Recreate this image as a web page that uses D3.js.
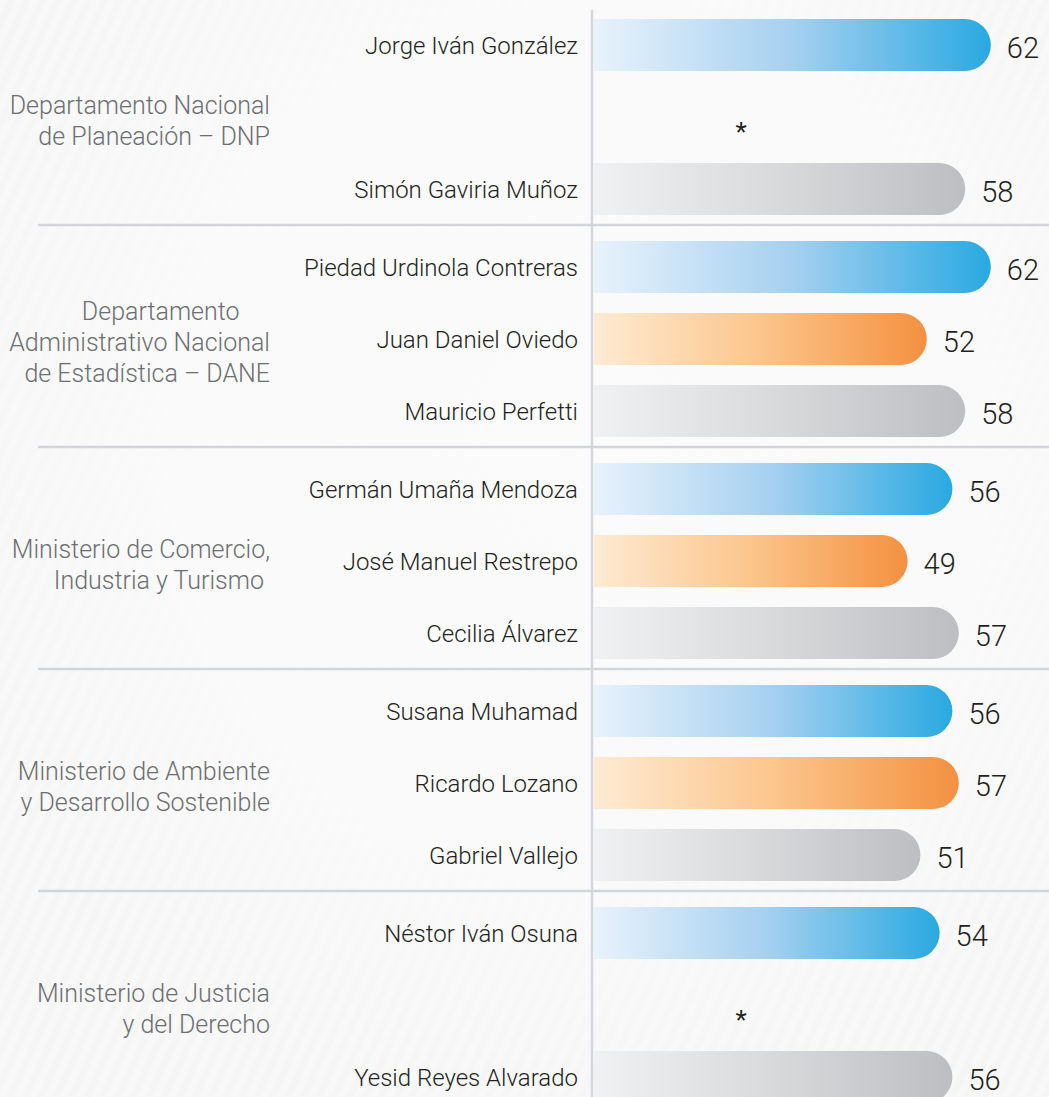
<!DOCTYPE html>
<html>
<head>
<meta charset="utf-8">
<script src="https://cdn.jsdelivr.net/npm/d3@7"></script>
<style>
  html, body { margin: 0; padding: 0; background: #f7f7f7; }
  svg { display: block; }
</style>
</head>
<body>
<svg id="chart"></svg>
<script>
// group labels (one entry per line)
const groupLabels = [
    ["Departamento Nacional", "de Planeación – DNP"],
    ["Departamento\u00a0\u00a0\u00a0\u00a0\u00a0", "Administrativo Nacional", "de Estadística – DANE"],
    ["Ministerio de Comercio,", "Industria y Turismo\u00a0"],
    ["Ministerio de Ambiente", "y Desarrollo Sostenible"],
    ["Ministerio de Justicia", "y del Derecho"]
];

// three slots per group: current, previous, earlier (null = no data, shown as *)
const names = [
    "Jorge Iván González", null, "Simón Gaviria Muñoz",
    "Piedad Urdinola Contreras", "Juan Daniel Oviedo", "Mauricio Perfetti",
    "Germán Umaña Mendoza", "José Manuel Restrepo", "Cecilia Álvarez",
    "Susana Muhamad", "Ricardo Lozano", "Gabriel Vallejo",
    "Néstor Iván Osuna", null, "Yesid Reyes Alvarado"
];
const values = [
    62, null, 58,
    62, 52, 58,
    56, 49, 57,
    56, 57, 51,
    54, null, 56
];
const series = ["actual", "anterior", "previo"];

const width = 1049;
const height = 1097;
const slotsPerGroup = 3;
const barHeight = 52;
const groupGap = 6 / 72; // extra space between groups, in slots

const svg = d3.select("#chart")
    .attr("width", width)
    .attr("height", height);

// background with faint diagonal stripes
const defs = svg.append("defs");
const stripes = defs.append("pattern")
    .attr("id", "stripes")
    .attr("width", 14)
    .attr("height", 14)
    .attr("patternUnits", "userSpaceOnUse")
    .attr("patternTransform", "rotate(25)");
stripes.append("rect").attr("width", 7).attr("height", 14).attr("fill", "#ffffff").attr("opacity", 0.35);

const glow = defs.append("radialGradient").attr("id", "glow")
    .attr("cx", "0.55").attr("cy", "0.4").attr("r", "0.65");
glow.append("stop").attr("offset", "0%").attr("stop-color", "#fbfbfb").attr("stop-opacity", 1);
glow.append("stop").attr("offset", "60%").attr("stop-color", "#fafafa").attr("stop-opacity", 0.85);
glow.append("stop").attr("offset", "100%").attr("stop-color", "#fafafa").attr("stop-opacity", 0);

svg.append("rect").attr("width", width).attr("height", height).attr("fill", "#f5f5f5");
svg.append("rect").attr("width", width).attr("height", height).attr("fill", "url(#stripes)");
svg.append("rect").attr("width", width).attr("height", height).attr("fill", "url(#glow)");

// bar gradients per series
const gradientStops = {
    actual: ["#e8f2fb", "#a6d0ef", "#29a9e1"],
    anterior: ["#fdebd3", "#fbc58c", "#f39140"],
    previo: ["#f0f1f3", "#d8d9db", "#bcbec1"]
};
series.forEach(s => {
    const g = defs.append("linearGradient").attr("id", "grad-" + s)
        .attr("x1", "0").attr("x2", "1").attr("y1", "0").attr("y2", "0");
    gradientStops[s].forEach((c, i, arr) => {
        g.append("stop").attr("offset", (i / (arr.length - 1) * 100) + "%").attr("stop-color", c);
    });
});

// scales
const x = d3.scaleLinear()
    .domain([0, 70])
    .range([594, 594 + 70 * 6.4]);

const slotPos = i => i + Math.floor(i / slotsPerGroup) * groupGap;
const y = d3.scaleLinear()
    .domain([0, 1])
    .range([45, 117]);

const rows = names.map((name, i) => ({
    name: name,
    value: values[i],
    group: Math.floor(i / slotsPerGroup),
    series: series[i % slotsPerGroup],
    cy: y(slotPos(i))
}));

// separators between groups
const separators = d3.range(1, groupLabels.length).map(g =>
    (y(slotPos(g * slotsPerGroup - 1)) + y(slotPos(g * slotsPerGroup))) / 2 - 3);

svg.selectAll(".separator")
    .data(separators)
    .enter()
    .append("line")
    .attr("class", "separator")
    .attr("x1", 38)
    .attr("x2", width)
    .attr("y1", d => d)
    .attr("y2", d => d)
    .attr("stroke", "#d4d5d8")
    .attr("stroke-width", 2.5);

// vertical axis line
svg.append("line")
    .attr("x1", x(0) - 2)
    .attr("x2", x(0) - 2)
    .attr("y1", 10)
    .attr("y2", height)
    .attr("stroke", "#d4d6dc")
    .attr("stroke-width", 2.5);

// bars: square left edge, rounded right end
const r = barHeight / 2;
const barPath = d => {
    const x0 = x(0), x1 = x(d.value), y0 = d.cy - r, y1 = d.cy + r;
    return `M${x0},${y0} H${x1 - r} A${r},${r} 0 0 1 ${x1},${d.cy} A${r},${r} 0 0 1 ${x1 - r},${y1} H${x0} Z`;
};

const withData = rows.filter(d => d.value != null);

svg.selectAll(".bar")
    .data(withData)
    .enter()
    .append("path")
    .attr("class", "bar")
    .attr("d", barPath)
    .attr("fill", d => `url(#grad-${d.series})`);

// values
svg.selectAll(".value")
    .data(withData)
    .enter()
    .append("text")
    .attr("class", "value")
    .attr("x", d => x(d.value) + 16)
    .attr("y", d => d.cy + 13)
    .attr("font-family", "Roboto, sans-serif")
    .attr("font-weight", 300)
    .attr("font-size", 29)
    .attr("fill", "#231f20")
    .text(d => d.value);

// person names
svg.selectAll(".name")
    .data(withData)
    .enter()
    .append("text")
    .attr("class", "name")
    .attr("x", x(0) - 16)
    .attr("y", d => d.cy + 8.5)
    .attr("text-anchor", "end")
    .attr("font-family", "Roboto, sans-serif")
    .attr("font-weight", 300)
    .attr("font-size", 24)
    .attr("fill", "#231f20")
    .text(d => d.name);

// asterisks for missing slots
svg.selectAll(".missing")
    .data(rows.filter(d => d.value == null))
    .enter()
    .append("text")
    .attr("class", "missing")
    .attr("x", x(23))
    .attr("y", d => d.cy + 24)
    .attr("text-anchor", "middle")
    .attr("font-family", "Roboto, sans-serif")
    .attr("font-size", 26)
    .attr("fill", "#231f20")
    .text("*");

// group labels
const lineHeight = 31;
const groupText = svg.selectAll(".group-label")
    .data(groupLabels)
    .enter()
    .append("text")
    .attr("class", "group-label")
    .attr("text-anchor", "end")
    .attr("font-family", "Roboto, sans-serif")
    .attr("font-weight", 300)
    .attr("font-size", 25)
    .attr("fill", "#6d6e71")
    .attr("transform", (lines, g) => {
        const mid = y(slotPos(g * slotsPerGroup + 1));
        return `translate(270, ${mid - (lines.length - 1) * lineHeight / 2 + 12})`;
    });

groupText.selectAll("tspan")
    .data(lines => lines)
    .enter()
    .append("tspan")
    .attr("x", 0)
    .attr("dy", (d, i) => i === 0 ? 0 : lineHeight)
    .text(d => d);
</script>
</body>
</html>
